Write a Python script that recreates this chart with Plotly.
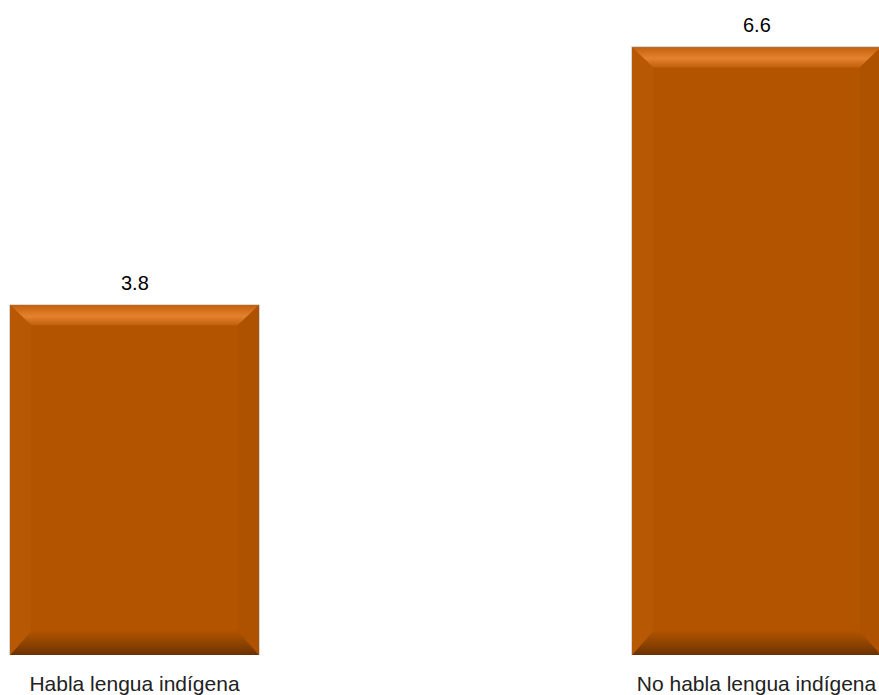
import plotly.graph_objects as go

categories = ["Habla lengua indígena", "No habla lengua indígena"]
values = [3.8, 6.6]
positions = [0, 1]
value_labels = ["3.8", "6.6"]

BAR_COLOR = "#B35500"
FONT = "Arial, Liberation Sans, sans-serif"
BAR_W = 0.4003
BEVEL_X = 0.034   # bevel size in x units
BEVEL_Y = 0.22    # bevel size in y units
BOT_Y = 0.26
PX_PER_UNIT_X = 622
FIG_W, FIG_H = 879, 695
ZERO_PX = 134.5
BOTTOM_M = 40

fig = go.Figure()
fig.add_trace(go.Bar(
    x=positions, y=values, width=BAR_W,
    marker=dict(color=BAR_COLOR, line=dict(color="rgba(140,140,140,0.6)", width=1.2)),
    hoverinfo="skip", showlegend=False,
))

# bevel bands built from the data values
for x, v in zip(positions, values):
    x0, x1 = x - BAR_W / 2, x + BAR_W / 2
    fig.add_trace(go.Scatter(
        x=[x0, x1, x1 - BEVEL_X, x0 + BEVEL_X, x0],
        y=[v, v, v - BEVEL_Y, v - BEVEL_Y, v],
        mode="lines", line=dict(width=0), fill="toself",
        fillgradient=dict(type="vertical",
                          colorscale=[[0, "#C0600C"], [0.45, "#E3822F"], [0.8, "#D06C18"], [1, "#C3610E"]]),
        hoverinfo="skip", showlegend=False,
    ))
    fig.add_trace(go.Scatter(
        x=[x0, x1, x1 - BEVEL_X, x0 + BEVEL_X, x0],
        y=[0, 0, BOT_Y, BOT_Y, 0],
        mode="lines", line=dict(width=0), fill="toself",
        fillgradient=dict(type="vertical",
                          colorscale=[[0, "#6A3000"], [0.5, "#904400"], [1, "#B05300"]]),
        hoverinfo="skip", showlegend=False,
    ))
    fig.add_trace(go.Scatter(
        x=[x0, x0 + BEVEL_X, x0 + BEVEL_X, x0, x0],
        y=[0, BOT_Y, v - BEVEL_Y, v, 0],
        mode="lines", line=dict(width=0), fill="toself", fillcolor="#B75805",
        hoverinfo="skip", showlegend=False,
    ))
    fig.add_trace(go.Scatter(
        x=[x1, x1 - BEVEL_X, x1 - BEVEL_X, x1, x1],
        y=[0, BOT_Y, v - BEVEL_Y, v, 0],
        mode="lines", line=dict(width=0), fill="toself", fillcolor="#AE5200",
        hoverinfo="skip", showlegend=False,
    ))

for x, v, t in zip(positions, values, value_labels):
    fig.add_annotation(x=x, y=v, text=t, showarrow=False, yanchor="bottom",
                       yshift=9, font=dict(family=FONT, size=20, color="#000000"))

fig.update_layout(
    width=FIG_W, height=FIG_H,
    margin=dict(l=0, r=0, t=0, b=BOTTOM_M),
    paper_bgcolor="white", plot_bgcolor="white",
    font=dict(family=FONT),
    xaxis=dict(range=[-ZERO_PX / PX_PER_UNIT_X, (FIG_W - ZERO_PX) / PX_PER_UNIT_X],
               tickmode="array", tickvals=positions, ticktext=categories,
               showgrid=False, zeroline=False, showline=False, ticks="",
               ticklabelstandoff=14,
               tickfont=dict(family=FONT, size=21, color="#222222")),
    yaxis=dict(range=[0, (FIG_H - BOTTOM_M) / 92.1], visible=False, showgrid=False, zeroline=False),
    showlegend=False,
)

fig.write_html(
    "out.html",
    config={"displayModeBar": False, "staticPlot": True},
    post_script="document.body.style.margin='0';document.body.style.overflow='hidden';",
)
